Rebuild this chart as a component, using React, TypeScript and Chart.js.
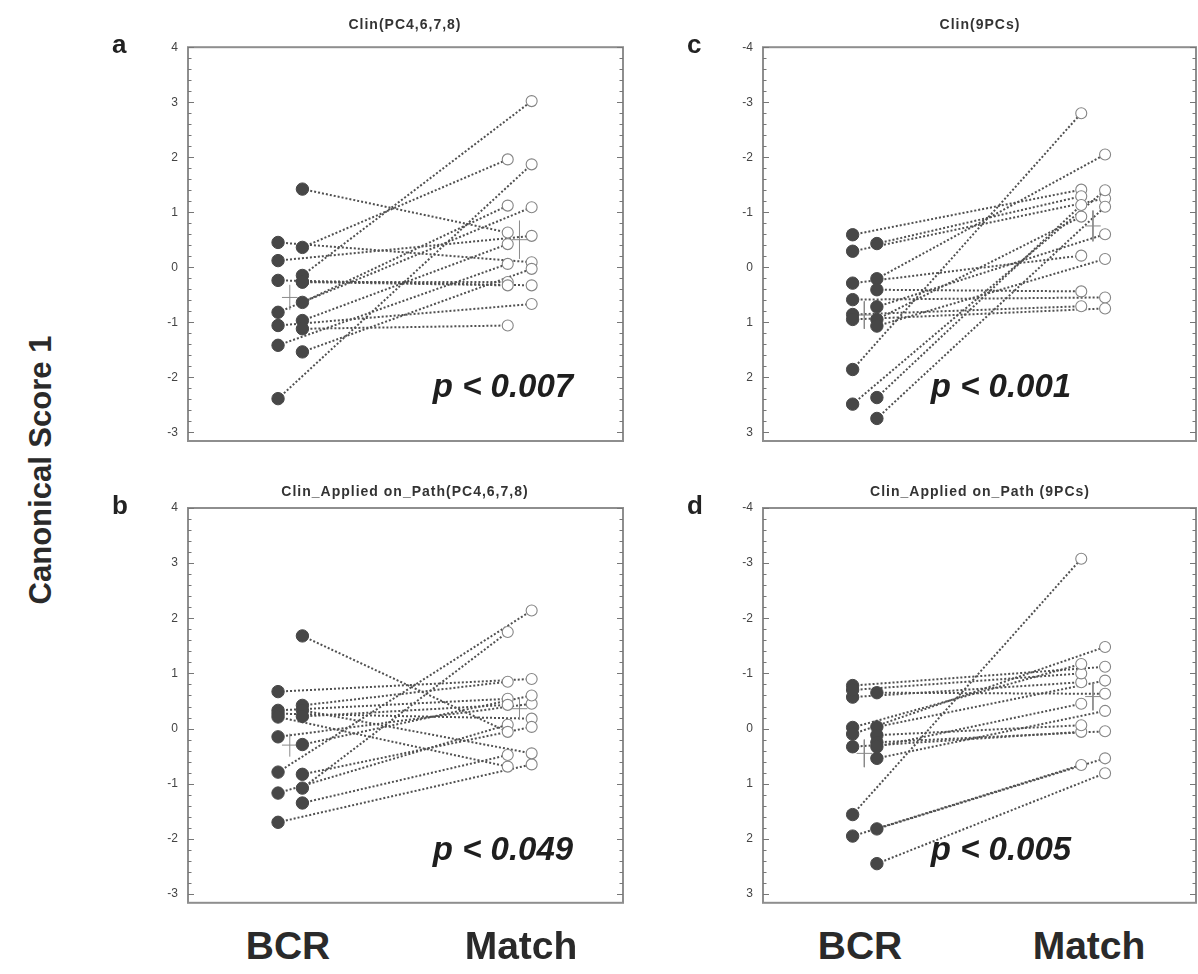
import React, { useEffect, useRef } from "react";
import { Chart, registerables } from "chart.js";

Chart.register(...registerables);

// ---- column positions on the hidden x axis (0..1) ----
const BCR_COLS = [0.207, 0.263];
const MATCH_COLS = [0.735, 0.79];
const BCR_MEAN_X = 0.234;
const MATCH_MEAN_X = 0.762;

// ---- tick labels ----
const ticksAB = [4, 3, 2, 1, 0, -1, -2, -3];
const ticksCD = [-4, -3, -2, -1, 0, 1, 2, 3];

// ---- Panel a : Clin(PC4,6,7,8) ----
const aBcr = [1.42, 0.45, 0.36, 0.12, -0.15, -0.27, -0.24, -0.64, -0.82, -0.97, -1.12, -1.06, -1.42, -1.54, -2.39, -0.27];
const aBcrCol = [1, 0, 1, 0, 1, 1, 0, 1, 0, 1, 1, 0, 0, 1, 0, 1];
const aMatch = [0.63, 0.09, 1.96, 0.57, 3.02, -0.27, -0.33, 1.12, 1.09, 0.42, -1.06, -0.67, 0.06, -0.03, 1.87, -0.33];
const aMatchCol = [0, 1, 0, 1, 1, 0, 1, 0, 1, 0, 0, 1, 0, 1, 1, 0];
const aMeans = [-0.55, 0.5];
const aErrs = [0.23, 0.35];

// ---- Panel b : Clin_Applied on_Path(PC4,6,7,8) ----
const bBcr = [0.67, 0.33, 0.27, 0.21, -0.15, -0.79, -1.17, -1.7, 1.68, 0.42, 0.33, 0.22, -0.29, -0.83, -1.08, -1.35];
const bBcrCol = [0, 0, 0, 0, 0, 0, 0, 0, 1, 1, 1, 1, 1, 1, 1, 1];
const bMatch = [0.9, 0.54, 0.18, -0.69, 0.45, 2.14, 0.07, -0.65, -0.06, 0.85, -0.45, 0.43, 0.6, 0.03, 1.75, -0.48];
const bMatchCol = [1, 0, 1, 0, 1, 1, 0, 1, 0, 0, 1, 0, 1, 1, 0, 0];
const bMeans = [-0.3, 0.36];
const bErrs = [0.21, 0.2];

// ---- Panel c : Clin(9PCs) (reversed axis) ----
const cBcr = [-0.59, -0.29, -0.43, 0.29, 0.21, 0.41, 0.59, 0.72, 0.86, 0.95, 0.95, 1.07, 1.86, 2.49, 2.37, 2.75];
const cBcrCol = [0, 0, 1, 0, 1, 1, 0, 1, 0, 0, 1, 1, 0, 0, 1, 1];
const cMatch = [-1.41, -1.25, -1.29, -0.21, -2.05, 0.44, 0.55, -0.6, 0.71, 0.75, -0.92, -0.15, -2.8, -1.4, -1.13, -1.1];
const cMatchCol = [0, 1, 0, 0, 1, 0, 1, 1, 0, 1, 0, 1, 0, 1, 0, 1];
const cMeans = [0.87, -0.75];
const cErrs = [0.25, 0.28];

// ---- Panel d : Clin_Applied on_Path (9PCs) (reversed axis) ----
const dBcr = [1.56, -0.78, -0.57, -0.7, -0.65, -0.02, 0.1, 0.33, -0.03, 0.12, 0.25, 0.33, 0.54, 1.95, 1.82, 2.45];
const dBcrCol = [0, 0, 0, 0, 1, 0, 0, 0, 1, 1, 1, 1, 1, 0, 1, 1];
const dMatch = [-3.08, -1.12, -0.84, -1.0, -0.63, -1.17, -1.48, 0.06, -0.87, -0.06, 0.05, -0.45, -0.32, 0.66, 0.54, 0.81];
const dMatchCol = [0, 1, 0, 0, 1, 0, 1, 0, 1, 0, 1, 0, 1, 0, 1, 1];
const dMeans = [0.45, -0.58];
const dErrs = [0.25, 0.25];

const FONT = "'Liberation Sans', Arial, sans-serif";

type Panel = {
  bcr: number[];
  bcrCol: number[];
  match: number[];
  matchCol: number[];
  means: number[];
  errs: number[];
  ticks: number[];
  min: number;
  max: number;
  reverse: boolean;
};

const framePlugin = {
  id: "frameTicks",
  afterDraw(chart: any) {
    const { ctx, chartArea: a } = chart;
    const y = chart.scales.y;
    ctx.save();
    ctx.strokeStyle = "#8e8e8e";
    ctx.lineWidth = 2;
    ctx.strokeRect(a.left, a.top, a.right - a.left, a.bottom - a.top);
    ctx.strokeStyle = "#777";
    ctx.lineWidth = 1;
    const lo = Math.ceil(y.min * 5 - 1e-6);
    const hi = Math.floor(y.max * 5 + 1e-6);
    for (let k = lo; k <= hi; k++) {
      const py = Math.round(y.getPixelForValue(k / 5)) + 0.5;
      const len = k % 5 === 0 ? 6 : 3.5;
      ctx.beginPath();
      ctx.moveTo(a.left, py);
      ctx.lineTo(a.left + len, py);
      ctx.moveTo(a.right, py);
      ctx.lineTo(a.right - len, py);
      ctx.stroke();
    }
    ctx.restore();
  },
};

function buildConfig(p: Panel, pad: { left: number; right: number; top: number; bottom: number }): any {
  const bcrPts = p.bcr.map((v, i) => ({ x: BCR_COLS[p.bcrCol[i]], y: v }));
  const matchPts = p.match.map((v, i) => ({ x: MATCH_COLS[p.matchCol[i]], y: v }));
  const lineSets = bcrPts.map((b, i) => ({
    type: "scatter",
    data: [b, matchPts[i]],
    showLine: true,
    borderColor: "#505050",
    borderWidth: 2,
    borderDash: [2, 2],
    pointRadius: 0,
    order: 3,
  }));
  const crossSets: any[] = [];
  [BCR_MEAN_X, MATCH_MEAN_X].forEach((mx, j) => {
    const m = p.means[j];
    const e = p.errs[j];
    crossSets.push({
      type: "scatter",
      data: [{ x: mx, y: m - e }, { x: mx, y: m + e }],
      showLine: true,
      borderColor: "#8a8a8a",
      borderWidth: 1,
      pointRadius: 0,
      order: 2,
    });
    crossSets.push({
      type: "scatter",
      data: [{ x: mx - 0.018, y: m }, { x: mx + 0.018, y: m }],
      showLine: true,
      borderColor: "#8a8a8a",
      borderWidth: 1,
      pointRadius: 0,
      order: 2,
    });
  });
  return {
    type: "scatter",
    data: {
      datasets: [
        {
          type: "scatter",
          data: bcrPts,
          pointRadius: 6.2,
          backgroundColor: "#474747",
          borderColor: "#474747",
          borderWidth: 1,
          order: 0,
        },
        {
          type: "scatter",
          data: matchPts,
          pointRadius: 5.5,
          backgroundColor: "#ffffff",
          borderColor: "#858585",
          borderWidth: 1.1,
          order: 1,
        },
        ...crossSets,
        ...lineSets,
      ],
    },
    options: {
      responsive: false,
      animation: false,
      layout: { padding: pad, autoPadding: false },
      plugins: { legend: { display: false }, tooltip: { enabled: false }, title: { display: false } },
      scales: {
        x: { type: "linear", min: 0, max: 1, display: false },
        y: {
          type: "linear",
          min: p.min,
          max: p.max,
          reverse: p.reverse,
          afterFit: (scale: any) => {
            scale.width = 68;
          },
          afterBuildTicks: (scale: any) => {
            scale.ticks = p.ticks.map((v) => ({ value: v }));
          },
          ticks: {
            padding: 10,
            color: "#444",
            font: { size: 12, family: FONT },
            callback: (v: any) => String(Math.round(Number(v))),
          },
          grid: { display: false, drawTicks: false },
          border: { display: false },
        },
      },
    },
    plugins: [framePlugin],
  };
}

function PanelChart(props: {
  panel: Panel;
  left: number;
  top: number;
  width: number;
  height: number;
  pad: { left: number; right: number; top: number; bottom: number };
}) {
  const ref = useRef<HTMLCanvasElement | null>(null);
  useEffect(() => {
    if (!ref.current) return;
    const chart = new Chart(ref.current, buildConfig(props.panel, props.pad));
    return () => chart.destroy();
  }, []);
  return (
    <div style={{ position: "absolute", left: props.left, top: props.top, width: props.width, height: props.height }}>
      <canvas ref={ref} width={props.width} height={props.height} style={{ width: props.width, height: props.height, display: "block" }} />
    </div>
  );
}

const txt = (extra: React.CSSProperties): React.CSSProperties => ({
  position: "absolute",
  fontFamily: FONT,
  whiteSpace: "nowrap",
  lineHeight: 1,
  ...extra,
});

function Centered(props: { x: number; y: number; size: number; italic?: boolean; color?: string; spacing?: number; children: any }) {
  return (
    <div
      style={txt({
        left: props.x,
        top: props.y,
        transform: "translate(-50%, -50%)",
        fontSize: props.size,
        fontWeight: "bold",
        fontStyle: props.italic ? "italic" : "normal",
        color: props.color || "#2a2a2a",
        letterSpacing: props.spacing ? props.spacing : 0,
      })}
    >
      {props.children}
    </div>
  );
}

export default function App() {
  const panelA: Panel = { bcr: aBcr, bcrCol: aBcrCol, match: aMatch, matchCol: aMatchCol, means: aMeans, errs: aErrs, ticks: ticksAB, min: -3.16, max: 4, reverse: false };
  const panelB: Panel = { bcr: bBcr, bcrCol: bBcrCol, match: bMatch, matchCol: bMatchCol, means: bMeans, errs: bErrs, ticks: ticksAB, min: -3.16, max: 4, reverse: false };
  const panelC: Panel = { bcr: cBcr, bcrCol: cBcrCol, match: cMatch, matchCol: cMatchCol, means: cMeans, errs: cErrs, ticks: ticksCD, min: -4, max: 3.16, reverse: true };
  const panelD: Panel = { bcr: dBcr, bcrCol: dBcrCol, match: dMatch, matchCol: dMatchCol, means: dMeans, errs: dErrs, ticks: ticksCD, min: -4, max: 3.16, reverse: true };

  return (
    <div style={{ position: "absolute", left: 0, top: 0, width: 1198, height: 974, background: "#fff", overflow: "hidden" }}>
      <PanelChart panel={panelA} left={120} top={30} width={520} height={430} pad={{ left: 0, right: 17, top: 17, bottom: 19 }} />
      <PanelChart panel={panelB} left={120} top={490} width={520} height={430} pad={{ left: 0, right: 17, top: 18, bottom: 17 }} />
      <PanelChart panel={panelC} left={695} top={30} width={503} height={430} pad={{ left: 0, right: 2, top: 17, bottom: 19 }} />
      <PanelChart panel={panelD} left={695} top={490} width={503} height={430} pad={{ left: 0, right: 2, top: 18, bottom: 17 }} />

      <Centered x={405} y={24} size={14} spacing={1} color="#333">Clin(PC4,6,7,8)</Centered>
      <Centered x={405} y={491} size={14} spacing={1} color="#333">Clin_Applied on_Path(PC4,6,7,8)</Centered>
      <Centered x={980} y={24} size={14} spacing={1} color="#333">Clin(9PCs)</Centered>
      <Centered x={980} y={491} size={14} spacing={1} color="#333">Clin_Applied on_Path (9PCs)</Centered>

      <div style={txt({ left: 112, top: 31, fontSize: 26, fontWeight: "bold", color: "#222" })}>a</div>
      <div style={txt({ left: 112, top: 492, fontSize: 26, fontWeight: "bold", color: "#222" })}>b</div>
      <div style={txt({ left: 687, top: 31, fontSize: 26, fontWeight: "bold", color: "#222" })}>c</div>
      <div style={txt({ left: 687, top: 492, fontSize: 26, fontWeight: "bold", color: "#222" })}>d</div>

      <Centered x={503} y={385} size={33} italic color="#1e1e1e">p &lt; 0.007</Centered>
      <Centered x={1001} y={385} size={33} italic color="#1e1e1e">p &lt; 0.001</Centered>
      <Centered x={503} y={848} size={33} italic color="#1e1e1e">p &lt; 0.049</Centered>
      <Centered x={1001} y={848} size={33} italic color="#1e1e1e">p &lt; 0.005</Centered>

      <div
        style={txt({
          left: 40,
          top: 470,
          transform: "translate(-50%, -50%) rotate(-90deg)",
          fontSize: 31,
          fontWeight: "bold",
          color: "#2a2a2a",
        })}
      >
        Canonical Score 1
      </div>

      <Centered x={288} y={945} size={39}>BCR</Centered>
      <Centered x={521} y={945} size={39}>Match</Centered>
      <Centered x={860} y={945} size={39}>BCR</Centered>
      <Centered x={1089} y={945} size={39}>Match</Centered>
    </div>
  );
}
